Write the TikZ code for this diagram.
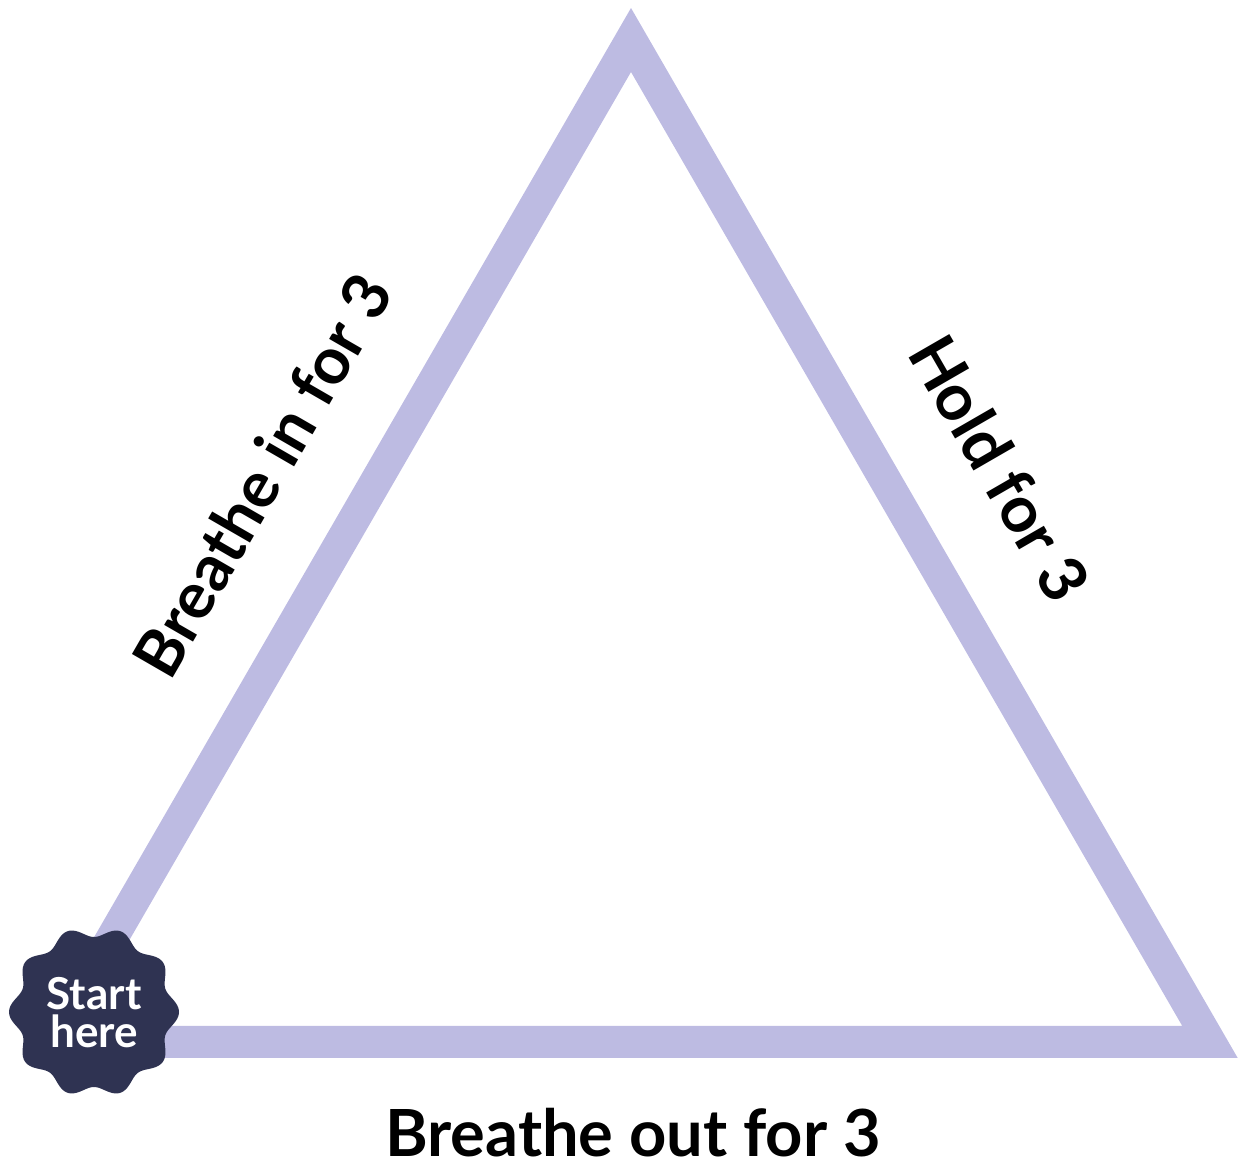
\documentclass[tikz,border=0pt]{standalone}
\usepackage{fontspec}
\setmainfont{Lato}
\definecolor{lavender}{HTML}{BDBBE2}
\definecolor{navy}{HTML}{2F3352}
\tikzset{
  side/.style={line width=16pt, color=lavender, line join=miter},
  lbl/.style={font=\fontsize{32.5}{36}\selectfont\bfseries, text=black, inner sep=0pt},
  badgetext/.style={font=\fontsize{22}{22}\selectfont\bfseries, text=white, align=center}
}
\begin{document}
\begin{tikzpicture}[x=0.5pt, y=-0.5pt]
    \useasboundingbox (0,0) rectangle (1239,1170);
    % corners of the breathing triangle (centre line of the stroke)
    \coordinate (top) at (631,40);
    \coordinate (right) at (1210,1042);
    \coordinate (left) at (52,1042);
    \draw[side] (left) -- (top) -- (right) -- cycle;
    % wavy seal for the start
    \fill[navy] plot[domain=0:360, samples=240, smooth]
        ({94+(80+5*cos(10*\x))*cos(\x)}, {1012+(80+5*cos(10*\x))*sin(\x)});
    \node[badgetext] (start) at (94,1013) {Start\\[-3pt]here};
    \node[lbl, rotate=60] (inlbl) at (262,475) {Breathe in for 3};
    \node[lbl, rotate=-60] (holdlbl) at (1000,468) {Hold for 3};
    \node[lbl] (outlbl) at (633,1133) {Breathe out for 3};
\end{tikzpicture}
\end{document}
